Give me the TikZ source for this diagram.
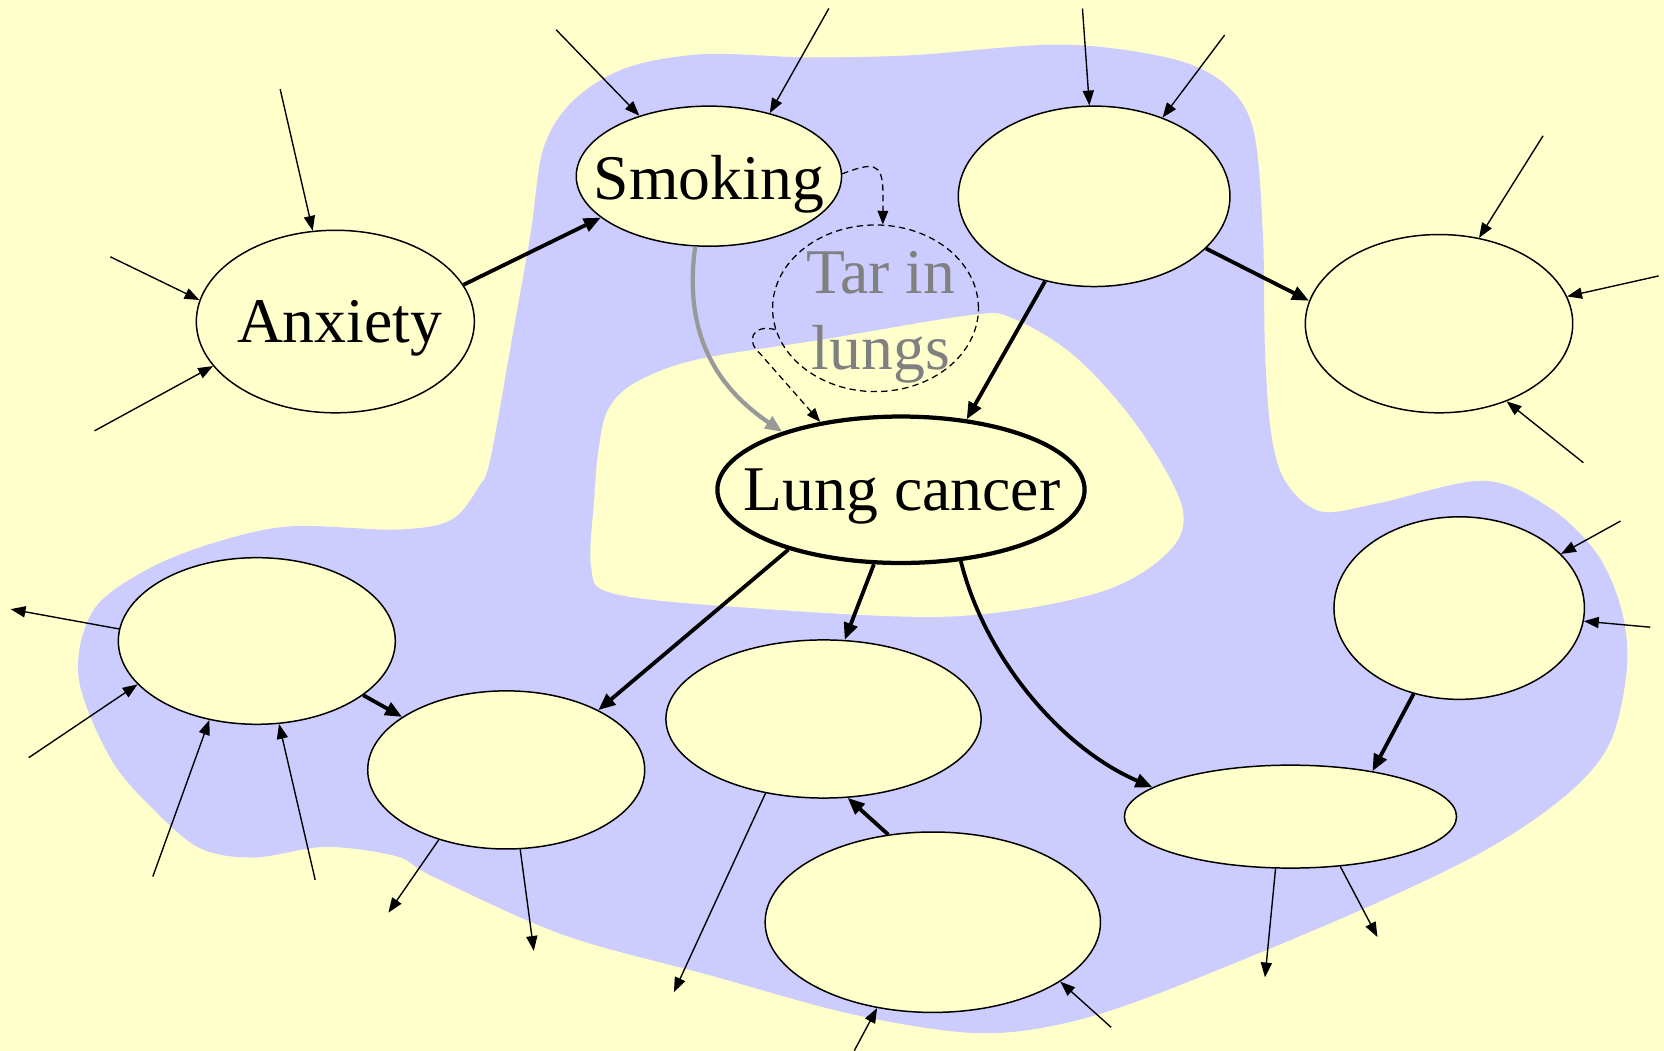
\documentclass[tikz,border=0pt]{standalone}
\usepackage{fontspec}
\setmainfont{Liberation Serif}
\usetikzlibrary{shapes.geometric,arrows.meta}
\definecolor{paper}{HTML}{FFFFCC}
\definecolor{region}{HTML}{CCCCFF}
\definecolor{faded}{HTML}{808080}
\definecolor{fadedline}{HTML}{999999}

\begin{document}
\begin{tikzpicture}[x=1pt,y=-1pt,
  var/.style={ellipse, draw=black, fill=paper, line width=1.4pt, inner sep=0pt},
  big/.style={font=\fontsize{60}{71}\selectfont},
  thinarrow/.style={line width=1.3pt, -{Triangle[length=14pt,width=10.5pt]}},
  strong/.style={line width=3.6pt, -{Triangle[length=16pt,width=13pt]}},
  hidden/.style={dashed, dash pattern=on 6pt off 4pt, line width=1.2pt, -{Triangle[length=13pt,width=10pt]}},
  grayarrow/.style={line width=4pt, draw=fadedline, -{Triangle[length=16pt,width=13pt]}}
]
% canvas
\fill[paper] (0,0) rectangle (1568,990);
\useasboundingbox (0,0) rectangle (1568,990);

% shaded region
\fill[region] plot[smooth cycle, tension=0.55] coordinates {
  (512,140) (540,95) (590,64) (663,51) (760,54) (860,52) (1000,42) (1103,55)
  (1154,79) (1181,122) (1190,220) (1192,330) (1198,410) (1212,455) (1245,482)
  (1300,474) (1398,453) (1461,479) (1505,522) (1528,575) (1533,630) (1517,700)
  (1476,749) (1398,802) (1272,862) (1084,939) (990,967) (911,973) (800,955)
  (669,919) (531,881) (408,826) (374,807) (307,798) (240,808) (190,800)
  (150,768) (105,716) (74,638) (88,575) (138,537) (200,512) (273,496) (374,499)
  (425,490) (451,459) (462,433) (482,322) (500,220)};
% hole in the region
\fill[paper] plot[smooth cycle, tension=0.55] coordinates {
  (557,534) (560,470) (564,424) (573,386) (598,361) (656,339) (775,320)
  (914,297) (954,300) (1013,336) (1072,402) (1114,478) (1100,521)
  (1033,559) (894,581) (695,572) (577,559)};

% variables
\node[var, minimum width=262pt, minimum height=172pt,
  label={[big, xshift=4pt, yshift=-6pt]center:Anxiety}] (anxiety) at (316,303) {};
\node[var, minimum width=250pt, minimum height=132pt,
  label={[big, yshift=-8pt]center:Smoking}] (smoking) at (668,166) {};
\node[var, minimum width=256pt, minimum height=170pt] (causeA) at (1031,185) {};
\node[var, minimum width=252pt, minimum height=168pt] (effectA) at (1356,305) {};
\node[var, line width=4pt, minimum width=346pt, minimum height=138pt,
  label={[big, xshift=1pt, yshift=-6.5pt]center:Lung cancer}] (lung) at (849,461.5) {};
\node[var, minimum width=261pt, minimum height=157pt] (left) at (242,604) {};
\node[var, minimum width=261pt, minimum height=149pt] (midA) at (477,725.5) {};
\node[var, minimum width=297pt, minimum height=149pt] (midB) at (776,677.5) {};
\node[var, minimum width=316pt, minimum height=170pt] (bottom) at (879,869) {};
\node[var, minimum width=313pt, minimum height=97pt] (wide) at (1216,769.5) {};
\node[var, minimum width=236pt, minimum height=172pt] (rightB) at (1375,573) {};
\node[ellipse, draw=black, dashed, dash pattern=on 6pt off 4pt, line width=1.2pt,
  inner sep=0pt, minimum width=194pt, minimum height=157pt,
  label={[big, text=faded, align=center, xshift=5pt, yshift=-8.5pt]center:Tar in\\lungs}]
  (tar) at (825,290.5) {};

% free ends of the outer arrows
\coordinate (a1) at (524,28);   \coordinate (a2) at (781,8);
\coordinate (b1) at (1020,8);   \coordinate (b2) at (1154,33);
\coordinate (c1) at (264,84);   \coordinate (c2) at (104,242);  \coordinate (c3) at (89,406);
\coordinate (d1) at (1454,128); \coordinate (d2) at (1563,260); \coordinate (d3) at (1492,436);
\coordinate (e1) at (1527,491); \coordinate (e2) at (1555,591);
\coordinate (f1) at (1192,921); \coordinate (f2) at (1298,883);
\coordinate (g1) at (805,990);  \coordinate (g2) at (1047,968);
\coordinate (h1) at (635,935);
\coordinate (i1) at (366,860);  \coordinate (i2) at (503,896);
\coordinate (j1) at (10,574);   \coordinate (j2) at (27,714);
\coordinate (j3) at (144,826);  \coordinate (j4) at (297,829);

% outer arrows
\draw[thinarrow] (a1) -- (smoking.139.5);
\draw[thinarrow] (a2) -- (smoking.46.5);
\draw[thinarrow] (b1) -- (causeA.93.4);
\draw[thinarrow] (b2) -- (causeA.49.8);
\draw[thinarrow] (c1) -- (anxiety.104.8);
\draw[thinarrow] (c2) -- (anxiety.171.6);
\draw[thinarrow] (c3) -- (anxiety.200.5);
\draw[thinarrow] (d1) -- (effectA.65.7);
\draw[thinarrow] (d2) -- (effectA.12);
\draw[thinarrow] (d3) -- (effectA.311.6);
\draw[thinarrow] (e1) -- (rightB.28);
\draw[thinarrow] (e2) -- (rightB.354);
\draw[thinarrow] (wide.254) -- (f1);
\draw[thinarrow] (wide.315.6) -- (f2);
\draw[thinarrow] (g1) -- (bottom.237.8);
\draw[thinarrow] (g2) -- (bottom.335);
\draw[thinarrow] (midB.232) -- (h1);
\draw[thinarrow] (midA.226) -- (i1);
\draw[thinarrow] (midA.280.6) -- (i2);
\draw[thinarrow] (left.175) -- (j1);
\draw[thinarrow] (j2) -- (left.200);
\draw[thinarrow] (j3) -- (left.239.7);
\draw[thinarrow] (j4) -- (left.285.6);

% causal links
\draw[strong] (anxiety.16) -- (smoking.201);
\draw[strong] (causeA.240) -- (lung.47);
\draw[strong] (causeA.335) -- (effectA.170);
\draw[strong] (lung.208) -- (midA.33);
\draw[strong] (lung.250) -- (midB.75);
\draw[strong] (lung.310) .. controls (928,620) and (1000,705) .. (wide.168);
\draw[strong] (rightB.242) -- (wide.29);
\draw[strong] (bottom.117) -- (midB.287);
\draw[strong] (left.333) -- (midA.153);

% smoking to cancer, direct and through tar
\draw[grayarrow] (smoking.259) .. controls (643,320) and (680,368) .. (lung.154);
\draw[hidden] (smoking.1) .. controls (822,153) and (832,152) .. (832,182) -- (tar.85);
\draw[hidden] (tar.192) .. controls (708,305) and (703,322) .. (716,333) -- (lung.140);
\end{tikzpicture}
\end{document}
